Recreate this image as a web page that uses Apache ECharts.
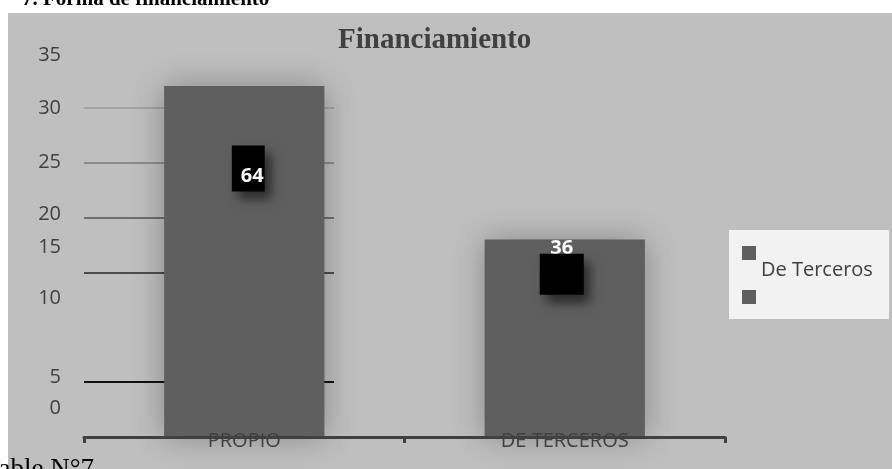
<!DOCTYPE html>
<html>
<head>
<meta charset="utf-8">
<script src="https://cdn.jsdelivr.net/npm/echarts@6/dist/echarts.min.js"></script>
<style>
  html, body { margin: 0; padding: 0; background: #ffffff; }
  #chart { width: 892px; height: 469px; }
</style>
</head>
<body>
<div id="chart"></div>
<script>
// Financing source: number of respondents per category
const categories = ['PROPIO', 'DE TERCEROS'];
const seriesNames = ['Propio', 'De Terceros'];
const counts = [32, 18];

// Value axis ticks
const yMin = 0;
const yMax = 35;
const yStep = 5;

// Vertical nudge (px, upwards) of some tick labels
const tickLabelShift = { 0: 29, 5: 5, 10: 29, 15: 25, 20: 3, 35: -2 };

const total = counts.reduce((a, b) => a + b, 0);
const pct = v => Math.round(v / total * 100);

const FONT = '"Open Sans", "Liberation Sans", sans-serif';
const SERIF = '"Liberation Serif", "DejaVu Serif", serif';
const TEXT = '#404040';
const BAR = '#5f5f5f';

const tickRich = {};
for (let v = yMin; v <= yMax; v += yStep) {
  const s = tickLabelShift[v] || 0;
  tickRich['s' + v] = { padding: s >= 0 ? [0, 0, 2 * s, 0] : [-2 * s, 0, 0, 0] };
}

const chart = echarts.init(document.getElementById('chart'), null, { renderer: 'canvas' });

chart.setOption({
  animation: false,
  backgroundColor: 'transparent',
  graphic: [
    { type: 'rect', z: -20, shape: { x: 8, y: 13, width: 884, height: 456 }, style: { fill: '#bfbfbf' } },
    { type: 'rect', z: -10, shape: { x: 729, y: 230, width: 160, height: 89 }, style: { fill: '#f2f2f2' } }
  ],
  title: [
    { text: 'Financiamiento', left: 333, top: 21,
      textStyle: { fontFamily: SERIF, fontWeight: 'bold', fontSize: 29, color: TEXT } },
    { text: '7. Forma de financiamiento', left: 17, top: -16,
      textStyle: { fontFamily: SERIF, fontWeight: 'bold', fontSize: 21, color: '#000' } },
    { text: 'Table N°7', left: -21, top: 451,
      textStyle: { fontFamily: SERIF, fontWeight: 'normal', fontSize: 27, color: '#000' } }
  ],
  legend: [
    { data: [seriesNames[0]], left: 742, top: 246, padding: 0, icon: 'rect',
      itemWidth: 14, itemHeight: 14, selectedMode: false,
      formatter: () => '' },
    { data: [seriesNames[1]], left: 742, top: 260, padding: 0, icon: 'rect',
      itemWidth: 14, itemHeight: 14, selectedMode: false,
      formatter: name => '{t|' + name + '}',
      textStyle: { fontFamily: FONT, fontSize: 20, color: TEXT,
        rich: { t: { lineHeight: 22, padding: [0, 0, 54, 0] } } } }
  ],
  grid: [
    { left: 84, right: 167, top: 53, bottom: 32 },
    { left: 84, width: 250, top: 53, bottom: 32 }
  ],
  xAxis: [
    { type: 'category', gridIndex: 0, data: categories, z: 5,
      axisLine: { lineStyle: { color: TEXT, width: 3 } },
      axisTick: { show: true, length: 6, lineStyle: { color: TEXT, width: 3 } },
      axisLabel: { margin: -6, fontFamily: FONT, fontSize: 20, color: TEXT } },
    { type: 'value', gridIndex: 1, show: false }
  ],
  yAxis: [
    { type: 'value', gridIndex: 0, min: yMin, max: yMax, interval: yStep,
      axisLine: { show: false }, axisTick: { show: false }, splitLine: { show: false },
      axisLabel: { margin: 23, fontFamily: FONT, fontSize: 20, color: TEXT,
        formatter: v => '{s' + v + '|' + v + '}', rich: tickRich } },
    { type: 'value', gridIndex: 1, min: yMin, max: yMax, interval: yStep,
      axisLine: { show: false }, axisTick: { show: false }, axisLabel: { show: false },
      splitLine: { show: true, lineStyle: { width: 2,
        color: ['transparent', '#111111', 'transparent', '#4d4d4d', '#6e6e6e', '#8c8c8c', '#a3a3a3', 'transparent'] } } }
  ],
  series: [
    { name: seriesNames[0], type: 'bar', xAxisIndex: 0, yAxisIndex: 0,
      barWidth: '50%', barGap: '-100%',
      data: [counts[0], '-'],
      itemStyle: { color: BAR, shadowBlur: 30, shadowColor: 'rgba(0,0,0,0.3)' },
      label: { show: true, position: 'inside', offset: [4, -93],
        formatter: p => '{v|' + pct(p.value) + '}',
        rich: { v: { color: '#fff', fontFamily: FONT, fontWeight: 'bold', fontSize: 20, lineHeight: 22,
          backgroundColor: '#000', padding: [21, 1, 5, 9],
          shadowColor: 'rgba(0,0,0,0.55)', shadowBlur: 10, shadowOffsetX: 6, shadowOffsetY: 8 } } } },
    { name: seriesNames[1], type: 'bar', xAxisIndex: 0, yAxisIndex: 0,
      barWidth: '50%', barGap: '-100%',
      data: ['-', counts[1]],
      itemStyle: { color: BAR, shadowBlur: 30, shadowColor: 'rgba(0,0,0,0.3)' },
      label: { show: true, position: 'inside', offset: [-3, -69],
        formatter: p => '{v|' + pct(p.value) + '}\n{b| }',
        rich: {
          v: { color: '#fff', fontFamily: FONT, fontWeight: 'bold', fontSize: 20, lineHeight: 10 },
          b: { backgroundColor: '#000', width: 44, height: 41, lineHeight: 41,
            shadowColor: 'rgba(0,0,0,0.55)', shadowBlur: 10, shadowOffsetX: 6, shadowOffsetY: 8 }
        } } }
  ]
});
</script>
</body>
</html>
